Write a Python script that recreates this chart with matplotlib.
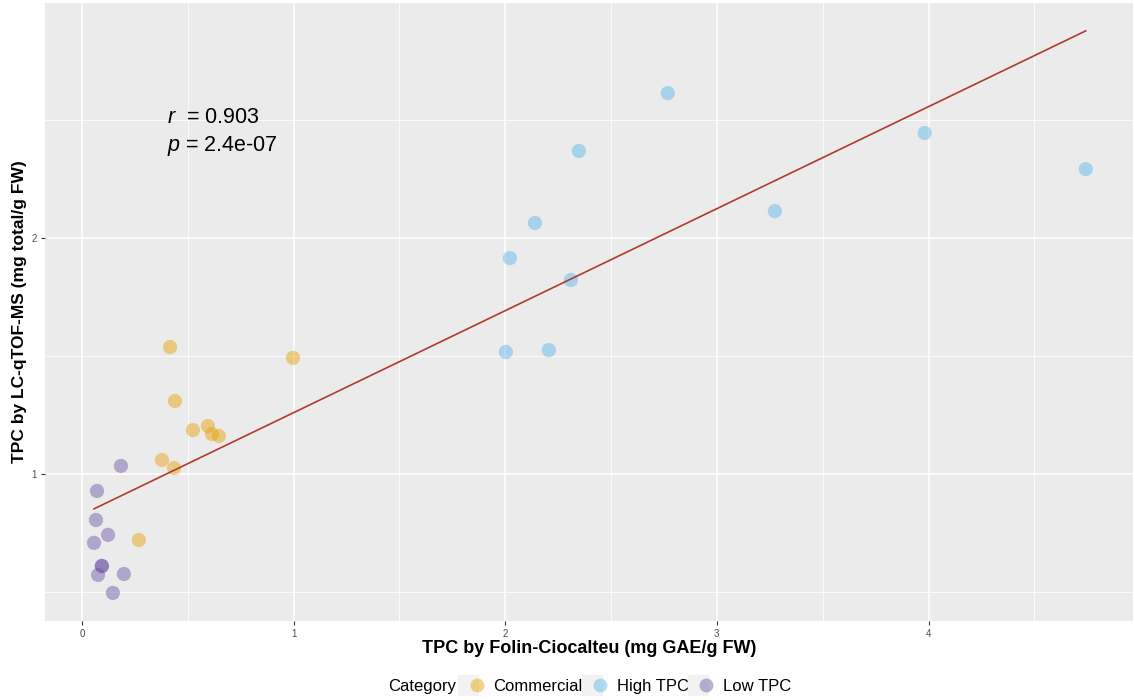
import numpy as np
import matplotlib
matplotlib.use("Agg")
import matplotlib.pyplot as plt
from matplotlib.lines import Line2D
from matplotlib.legend_handler import HandlerTuple

plt.rcParams['font.family'] = ['Liberation Sans', 'DejaVu Sans']
plt.rcParams['mathtext.fontset'] = 'custom'
plt.rcParams['mathtext.it'] = 'Liberation Sans:italic'
plt.rcParams['mathtext.rm'] = 'Liberation Sans'

categories = ["Commercial", "High TPC", "Low TPC"]
colors = {"Commercial": "#E69F00", "High TPC": "#56B4E9", "Low TPC": "#6A51A3"}

commercial_x = [0.416, 0.997, 0.439, 0.524, 0.595, 0.614, 0.647, 0.378, 0.435, 0.269]
commercial_y = [1.538, 1.492, 1.309, 1.186, 1.203, 1.169, 1.161, 1.059, 1.025, 0.720]

high_x = [2.768, 2.348, 3.982, 4.743, 3.274, 2.140, 2.022, 2.310, 2.003, 2.206]
high_y = [2.614, 2.369, 2.445, 2.292, 2.114, 2.064, 1.915, 1.822, 1.517, 1.525]

low_x = [0.184, 0.071, 0.066, 0.123, 0.057, 0.094, 0.094, 0.076, 0.198, 0.146]
low_y = [1.034, 0.928, 0.805, 0.742, 0.708, 0.610, 0.610, 0.572, 0.576, 0.496]

r_text = "0.903"
p_text = "2.4e-07"

fig = plt.figure(figsize=(11.35, 7.0), dpi=100)
ax = fig.add_axes([0.0396, 0.1129, 0.9584, 0.8828])
ax.set_facecolor("#EBEBEB")
for s in ax.spines.values():
    s.set_visible(False)

ax.set_xlim(-0.175, 4.965)
ax.set_ylim(0.377, 2.996)
ax.set_xticks([0, 1, 2, 3, 4])
ax.set_yticks([1, 2])
ax.set_xticks([0.5, 1.5, 2.5, 3.5, 4.5], minor=True)
ax.set_yticks([0.5, 1.5, 2.5], minor=True)
ax.grid(True, which="major", color="white", linewidth=1.1)
ax.grid(True, which="minor", color="white", linewidth=0.55)
ax.set_axisbelow(True)
ax.tick_params(which="major", length=3, width=0.8, color="#333333",
               labelsize=7, labelcolor="#4D4D4D", pad=3)
ax.tick_params(which="minor", length=0)

data = {"Commercial": (commercial_x, commercial_y),
        "High TPC": (high_x, high_y),
        "Low TPC": (low_x, low_y)}
for c in categories:
    xs, ys = data[c]
    ax.scatter(xs, ys, s=105, color=colors[c], alpha=0.45, edgecolors="none", zorder=3)

all_x = np.array(commercial_x + high_x + low_x)
all_y = np.array(commercial_y + high_y + low_y)
slope, intercept = np.polyfit(all_x, all_y, 1)
xl = np.array([all_x.min(), all_x.max()])
ax.plot(xl, intercept + slope * xl, color="#B03A2E", linewidth=1.2, zorder=4)

ax.text(0.40, 2.51, r"$r$  = " + r_text, fontsize=15.5, color="black", va="center")
ax.text(0.40, 2.39, r"$p$ = " + p_text, fontsize=15.5, color="black", va="center")

ax.set_xlabel("TPC by Folin-Ciocalteu (mg GAE/g FW)", fontsize=13, fontweight="bold")
ax.xaxis.set_label_coords(0.5, -0.031)
ax.set_ylabel("TPC by LC-qTOF-MS (mg total/g FW)", fontsize=12.5, fontweight="bold")
ax.yaxis.set_label_coords(-0.0165, 0.5)

handles = []
for c in categories:
    bg = Line2D([], [], marker="s", markersize=14.5, color="#F2F2F2", linestyle="none")
    dot = Line2D([], [], marker="o", markersize=10, color=colors[c], alpha=0.45,
                 markeredgewidth=0, linestyle="none")
    handles.append((bg, dot))
fig.text(0.342, 0.019, "Category", fontsize=12, va="center", ha="left")
fig.legend(handles, categories, handler_map={tuple: HandlerTuple(ndivide=None, pad=0)},
           loc="center left", bbox_to_anchor=(0.409, 0.019), ncol=3, frameon=False,
           fontsize=12, handlelength=1.0, handletextpad=0.75, columnspacing=0.3,
           borderpad=0, borderaxespad=0)

fig.savefig("out.png", dpi=100)
